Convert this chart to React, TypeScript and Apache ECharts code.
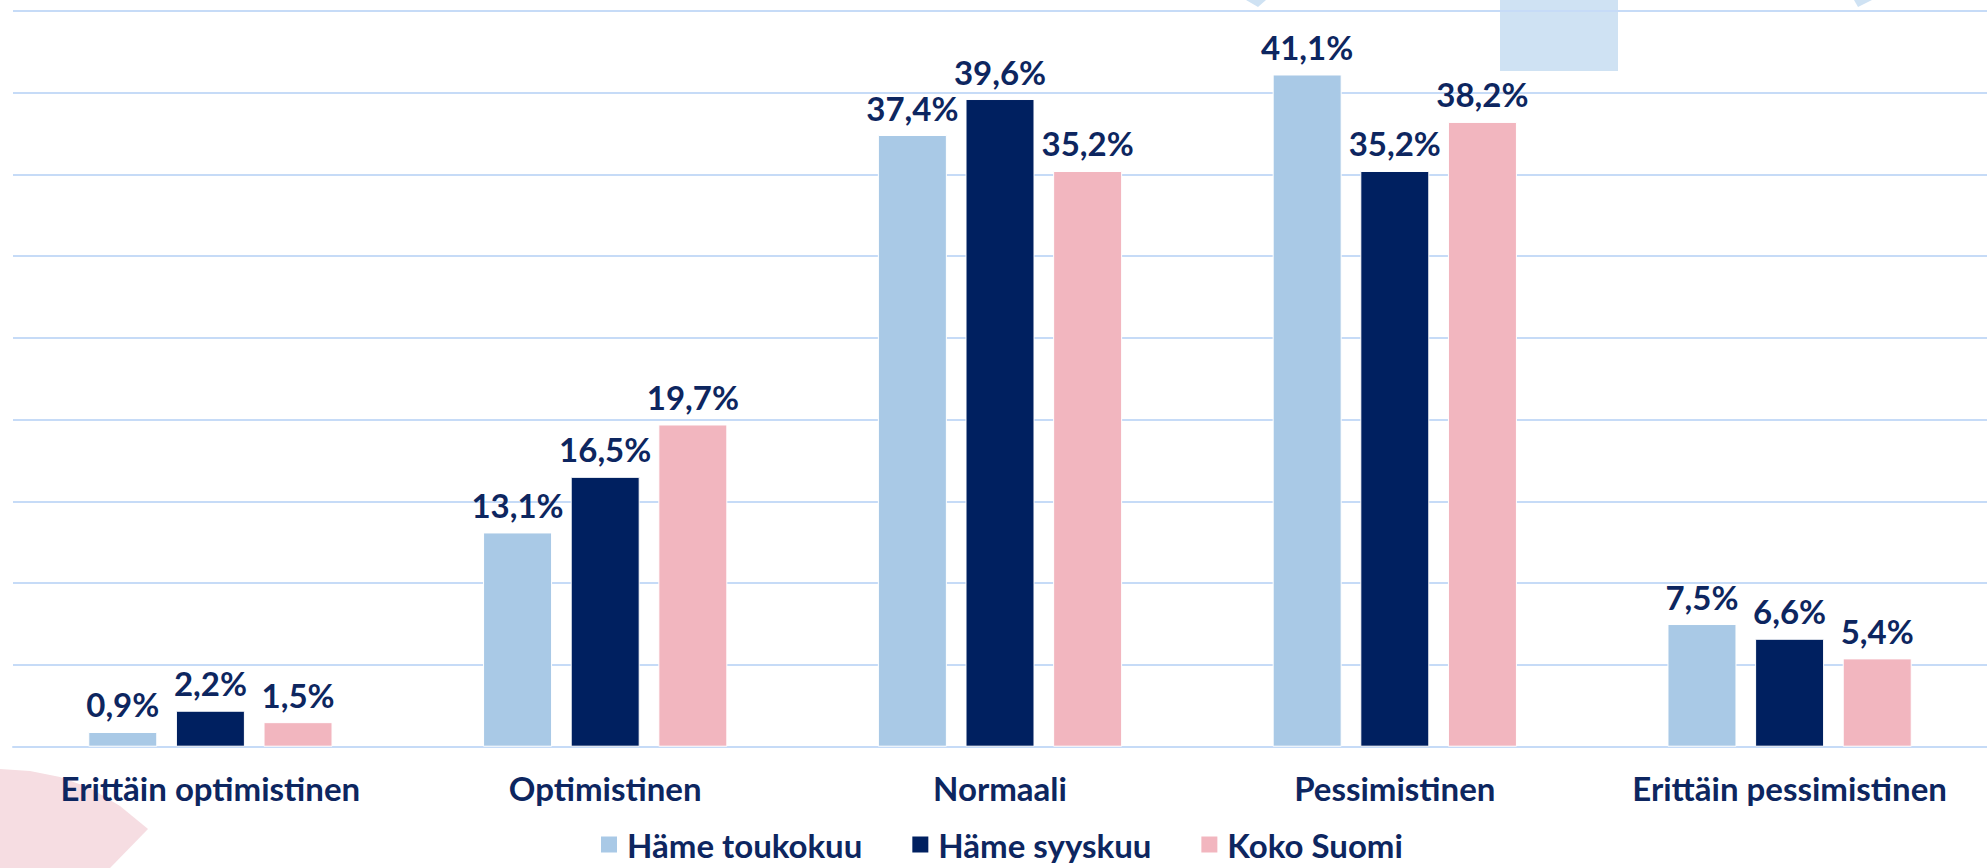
import React, { useEffect, useRef } from "react";
import * as echarts from "echarts";

const categories = [
  "Erittäin optimistinen",
  "Optimistinen",
  "Normaali",
  "Pessimistinen",
  "Erittäin pessimistinen",
];
const seriesNames = ["Häme toukokuu", "Häme syyskuu", "Koko Suomi"];
const hameToukokuu = [0.9, 13.1, 37.4, 41.1, 7.5];
const hameSyyskuu = [2.2, 16.5, 39.6, 35.2, 6.6];
const kokoSuomi = [1.5, 19.7, 35.2, 38.2, 5.4];
const colors = ["#a9c9e6", "#002060", "#f2b6bf"];

const NAVY = "#0d2660";
const FONT = "Lato, 'Noto Sans', sans-serif";

export default function App() {
  const ref = useRef<HTMLDivElement>(null);
  useEffect(() => {
    if (!ref.current) return;
    const chart = echarts.init(ref.current, null, { renderer: "svg" });
    const fmt = (p: any) => p.value.toFixed(1).replace(".", ",") + "%";
    const mk = (name: string, data: number[], color: string) => ({
      name,
      type: "bar",
      data,
      barWidth: 69,
      barGap: "27%",
      itemStyle: { color, borderColor: "#ffffff", borderWidth: 1 },
      label: {
        show: true,
        position: "top",
        distance: 11,
        formatter: fmt,
        color: NAVY,
        fontFamily: FONT,
        fontWeight: "bold",
        fontSize: 33,
      },
    });
    chart.setOption({
      animation: false,
      backgroundColor: "#ffffff",
      grid: { left: 13, right: -3, top: 10.7, bottom: 121.3, containLabel: false },
      graphic: [
        {
          type: "rect",
          z: -1,
          shape: { x: 1500, y: 0, width: 118, height: 71 },
          style: { fill: "#cfe2f3" },
        },
        {
          type: "polygon",
          z: -1,
          shape: { points: [[1246, 0], [1266, 0], [1258, 7]] },
          style: { fill: "#cfe2f3" },
        },
        {
          type: "polygon",
          z: -1,
          shape: { points: [[1854, 0], [1872, 0], [1858, 7]] },
          style: { fill: "#cfe2f3" },
        },
        {
          type: "polygon",
          z: -1,
          shape: {
            points: [
              [0, 769],
              [30, 771],
              [60, 777],
              [90, 788],
              [120, 806],
              [148, 829],
              [110, 868],
              [0, 868],
            ],
          },
          style: { fill: "#f6dde2" },
        },
      ],
      legend: {
        data: seriesNames,
        left: 594,
        top: 823,
        icon: "rect",
        itemWidth: 18,
        itemHeight: 18,
        itemGap: 48,
        textStyle: {
          color: NAVY,
          fontFamily: FONT,
          fontWeight: "bold",
          fontSize: 33,
          padding: [0, 0, 0, 4],
        },
      },
      xAxis: {
        type: "category",
        data: categories,
        axisLine: { show: true, lineStyle: { color: "#c6dbf7", width: 2 } },
        axisTick: { show: false },
        axisLabel: {
          color: NAVY,
          fontFamily: FONT,
          fontWeight: "bold",
          fontSize: 33,
          margin: 25,
          interval: 0,
        },
      },
      yAxis: {
        type: "value",
        min: 0,
        max: 45,
        interval: 5,
        axisLabel: { show: false },
        axisLine: { show: false },
        axisTick: { show: false },
        splitLine: { show: true, lineStyle: { color: "#c6dbf7", width: 2 } },
      },
      series: [
        mk(seriesNames[0], hameToukokuu, colors[0]),
        mk(seriesNames[1], hameSyyskuu, colors[1]),
        mk(seriesNames[2], kokoSuomi, colors[2]),
      ],
    });
    return () => chart.dispose();
  }, []);
  return (
    <div
      ref={ref}
      style={{ position: "absolute", left: 0, top: 0, width: 1987, height: 868 }}
    />
  );
}
